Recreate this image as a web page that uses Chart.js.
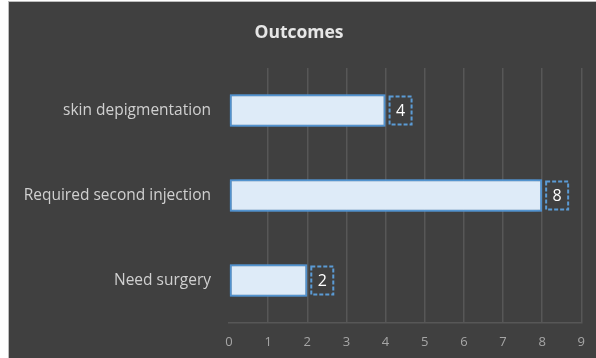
<!DOCTYPE html>
<html>
<head>
<meta charset="utf-8">
<script src="https://cdn.jsdelivr.net/npm/chart.js@4/dist/chart.umd.min.js"></script>
<style>
    html, body { margin: 0; padding: 0; background: #ffffff; }
    #wrap {
        position: absolute;
        left: 8px;
        top: 1px;
        width: 587px;
        height: 356px;
        background: #404040;
        border-left: 1px solid #bdbdbd;
        border-top: 1px solid #bdbdbd;
    }
</style>
</head>
<body>
<div id="wrap"><canvas id="outcomesChart"></canvas></div>
<script>
const categories = ['skin depigmentation', 'Required second injection', 'Need surgery'];
const counts = [4, 8, 2];
const xTicks = [0, 1, 2, 3, 4, 5, 6, 7, 8, 9];

const fontFamily = '"Open Sans", "Noto Sans", sans-serif';

// glow round the bars
const barGlow = {
    id: 'barGlow',
    beforeDatasetsDraw(chart) {
        chart.ctx.save();
        chart.ctx.shadowColor = 'rgba(91,155,213,0.9)';
        chart.ctx.shadowBlur = 7;
    },
    afterDatasetsDraw(chart) {
        chart.ctx.restore();
    }
};

// dashed box labels at the bar ends
const boxLabels = {
    id: 'boxLabels',
    afterDatasetsDraw(chart) {
        const ctx = chart.ctx;
        const meta = chart.getDatasetMeta(0);
        ctx.save();
        ctx.font = '16px ' + fontFamily;
        ctx.textAlign = 'center';
        ctx.textBaseline = 'middle';
        meta.data.forEach(function (bar, i) {
            const w = 22, h = 28;
            const x0 = bar.x + 4;
            const y0 = bar.y - h / 2;
            ctx.setLineDash([4, 2]);
            ctx.lineWidth = 2;
            ctx.strokeStyle = '#5b9bd5';
            ctx.strokeRect(x0, y0, w, h);
            ctx.fillStyle = '#ffffff';
            ctx.fillText(String(counts[i]), x0 + w / 2, bar.y + 1);
        });
        ctx.restore();
    }
};

new Chart(document.getElementById('outcomesChart'), {
    type: 'bar',
    data: {
        labels: categories,
        datasets: [{
            label: 'Outcomes',
            data: counts,
            backgroundColor: '#deebf8',
            borderColor: '#4f8fcc',
            borderWidth: 2,
            borderSkipped: false,
            categoryPercentage: 1,
            barPercentage: 0.38
        }]
    },
    options: {
        indexAxis: 'y',
        responsive: true,
        maintainAspectRatio: false,
        animation: false,
        layout: { padding: { left: 0, right: 7, top: 0, bottom: 0 } },
        plugins: {
            legend: { display: false },
            tooltip: { enabled: false },
            title: {
                display: true,
                text: 'Outcomes',
                color: '#e6e6e6',
                font: { family: fontFamily, size: 17.5, weight: 'bold' },
                padding: { top: 21, bottom: 24 }
            }
        },
        scales: {
            x: {
                min: 0,
                max: 9,
                afterBuildTicks: function (scale) {
                    scale.ticks = xTicks.map(function (v) { return { value: v }; });
                },
                afterFit: function (scale) { scale.height = 35; },
                grid: {
                    color: function (c) { return c.tick && c.tick.value === 0 ? 'rgba(0,0,0,0)' : '#575757'; },
                    lineWidth: 1.5,
                    drawTicks: false
                },
                border: { display: true, color: '#575757', width: 1.5 },
                ticks: {
                    color: '#a6a6a6',
                    padding: 11,
                    font: { family: fontFamily, size: 13 }
                }
            },
            y: {
                afterFit: function (scale) { scale.width = 220; },
                grid: { display: false, drawTicks: false },
                border: { display: false },
                ticks: {
                    color: '#d0d0d0',
                    padding: 18,
                    font: { family: fontFamily, size: 15.5 }
                }
            }
        }
    },
    plugins: [barGlow, boxLabels]
});
</script>
</body>
</html>
